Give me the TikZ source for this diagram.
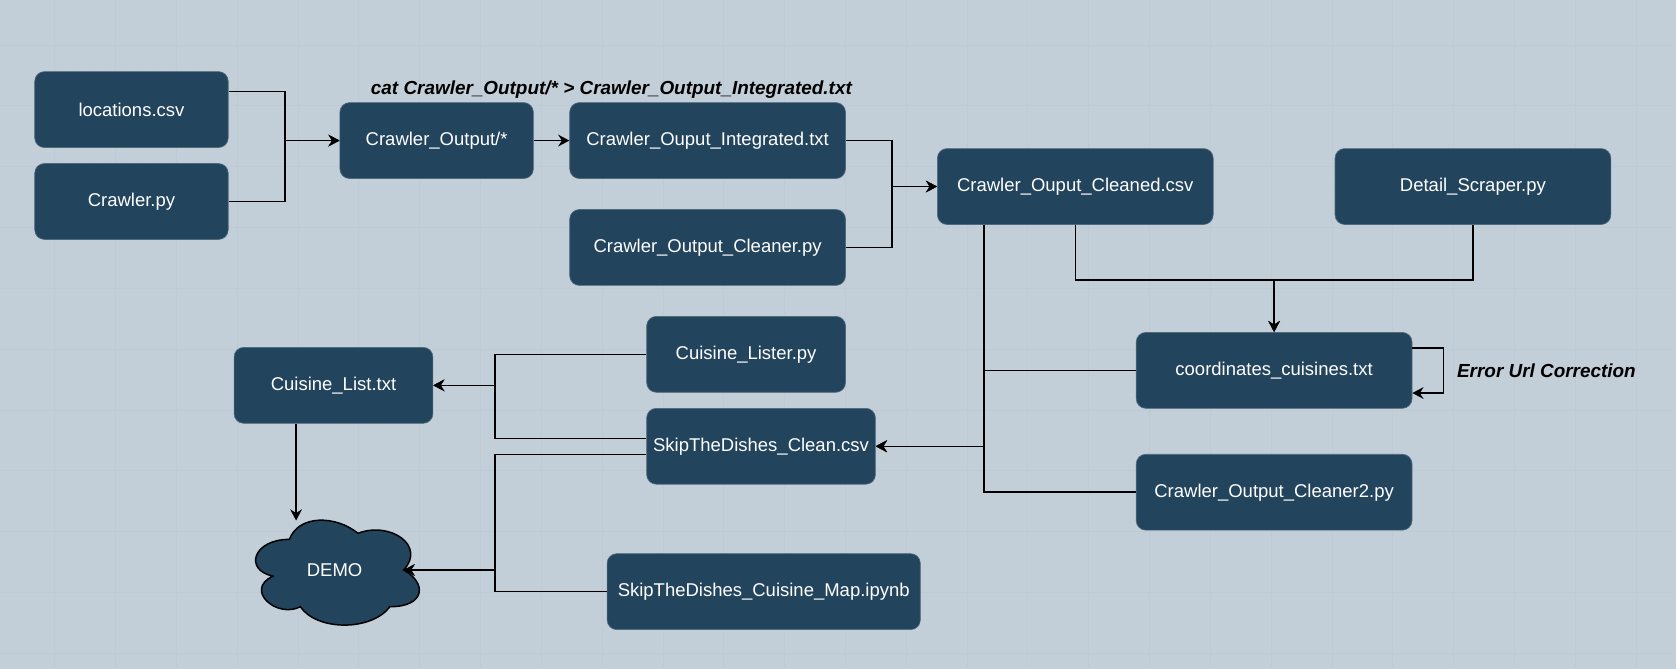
\documentclass[tikz,border=0pt]{standalone}
\usepackage{fontspec}
\setmainfont{Liberation Sans}
\usetikzlibrary{arrows.meta}
\definecolor{bgc}{HTML}{C2CFD9}
\definecolor{gridminor}{HTML}{C4CFD8}
\definecolor{gridmajor}{HTML}{BECAD4}
\definecolor{boxfill}{HTML}{23445D}
\begin{document}
\begin{tikzpicture}[x=1pt,y=-1pt,
  box/.style={draw=boxfill!80!white, line width=0.6pt, fill=boxfill, rounded corners=9pt,
    text=white, font=\fontsize{17.3}{20}\selectfont, minimum height=71pt, inner sep=0pt},
  lbl/.style={font=\fontsize{17.7}{20}\selectfont\bfseries\itshape, text=black, inner sep=0pt},
  conn/.style={line width=1.4pt, draw=black},
  arr/.style={conn, -{Stealth[length=10.5pt,width=11pt,inset=3.5pt]}},
  gmin/.style={draw=gridminor, line width=0.8pt},
  gmaj/.style={draw=gridmajor, line width=0.9pt}]
% background and grid
\fill[bgc] (0,0) rectangle (1568,625);
\useasboundingbox (0,0) rectangle (1568,625);
\foreach \i in {0,...,109} {\draw[gmin] ({8.6+\i*14.225},0) -- ({8.6+\i*14.225},625);}
\foreach \i in {0,...,43} {\draw[gmin] (0,{13.75+\i*14.225}) -- (1568,{13.75+\i*14.225});}
\foreach \i in {0,...,27} {\draw[gmaj] ({51.3+\i*56.9},0) -- ({51.3+\i*56.9},625);}
\foreach \i in {0,...,10} {\draw[gmaj] (0,{42.2+\i*56.9}) -- (1568,{42.2+\i*56.9});}

% nodes
\node[box, minimum width=181pt] (loc) at (123,102.5) {locations.csv};
\node[box, minimum width=181pt] (crawler) at (123,188.5) {Crawler.py};
\node[box, minimum width=181pt] (out) at (408.5,131.5) {Crawler\_Output/*};
\node[box, minimum width=258pt] (integ) at (662,131.5) {Crawler\_Ouput\_Integrated.txt};
\node[box, minimum width=258pt] (cleaner) at (662,231.5) {Crawler\_Output\_Cleaner.py};
\node[box, minimum width=258pt] (cleaned) at (1006,174.5) {Crawler\_Ouput\_Cleaned.csv};
\node[box, minimum width=258pt] (detail) at (1378,174.5) {Detail\_Scraper.py};
\node[box, minimum width=258pt] (coord) at (1192,346.5) {coordinates\_cuisines.txt};
\node[box, minimum width=258pt] (cleaner2) at (1192,460.5) {Crawler\_Output\_Cleaner2.py};
\node[box, minimum width=186pt] (lister) at (698,331.5) {Cuisine\_Lister.py};
\node[box, minimum width=214pt] (clean) at (712,417.5) {SkipTheDishes\_Clean.csv};
\node[box, minimum width=186pt] (clist) at (312,360.5) {Cuisine\_List.txt};
\node[box, minimum width=293pt] (map) at (714.5,553.5) {SkipTheDishes\_Cuisine\_Map.ipynb};

% DEMO cloud
\filldraw[fill=boxfill, draw=black, line width=1.4pt]
  (270.75,504.6) .. controls (236.55,504.6) and (228,533.25) .. (255.36,539)
  .. controls (228,551.6) and (258.8,579.05) .. (281,567.6)
  .. controls (296.4,590.5) and (347.7,590.5) .. (364.8,567.6)
  .. controls (399,567.6) and (399,544.7) .. (377.6,533.25)
  .. controls (399,510.35) and (364.8,487.45) .. (334.9,498.9)
  .. controls (313.5,481.7) and (279.3,481.7) .. (270.75,504.6) -- cycle;
\node[text=white, font=\fontsize{17.3}{20}\selectfont, inner sep=0pt] (demo) at (313,533) {DEMO};
\coordinate (demoR) at (377.6,533.25);
\coordinate (demoT) at (277,487);

% labels
\node[lbl] (catlbl) at (572,84) {cat Crawler\_Output/* > Crawler\_Output\_Integrated.txt};
\node[lbl, anchor=west] (errlbl) at (1363,346.5) {Error Url Correction};

% junction coordinates
\coordinate (j1) at (266.6,131.5);
\coordinate (j2) at (834.5,174.5);
\coordinate (j3) at (1192,262);
\coordinate (j4) at (920.6,417.5);
\coordinate (j5) at (463,360.5);
\coordinate (j6) at (463,533.25);

% connectors
\draw[arr] ([yshift=16.7pt]loc.east) -| (j1) -- (out.west);
\draw[arr] (crawler.east) -| (j1) -- (out.west);
\draw[arr] (out.east) -- (integ.west);
\draw[arr] (integ.east) -| (j2) -- (cleaned.west);
\draw[arr] (cleaner.east) -| (j2) -- (cleaned.west);
\draw[arr] (cleaned.south) |- (j3) -- (coord.north);
\draw[arr] (detail.south) |- (j3) -- (coord.north);
\draw[arr] ([xshift=-85.4pt]cleaned.south) -- (j4) -- (clean.east);
\draw[arr] (coord.west) -| (j4) -- (clean.east);
\draw[arr] (cleaner2.west) -| (j4) -- (clean.east);
\draw[arr] ([yshift=20.8pt]coord.east) -- ++(29,0) |- ([yshift=-21.2pt]coord.east);
\draw[arr] (lister.west) -| (j5) -- (clist.east);
\draw[arr] ([yshift=7.2pt]clean.west) -| (j5) -- (clist.east);
\draw[arr] ([yshift=-7.5pt]clean.west) -| (j6) -- (demoR);
\draw[arr] (map.west) -| (j6) -- (demoR);
\draw[arr] ([xshift=-35pt]clist.south) -- (demoT);
\end{tikzpicture}
\end{document}
